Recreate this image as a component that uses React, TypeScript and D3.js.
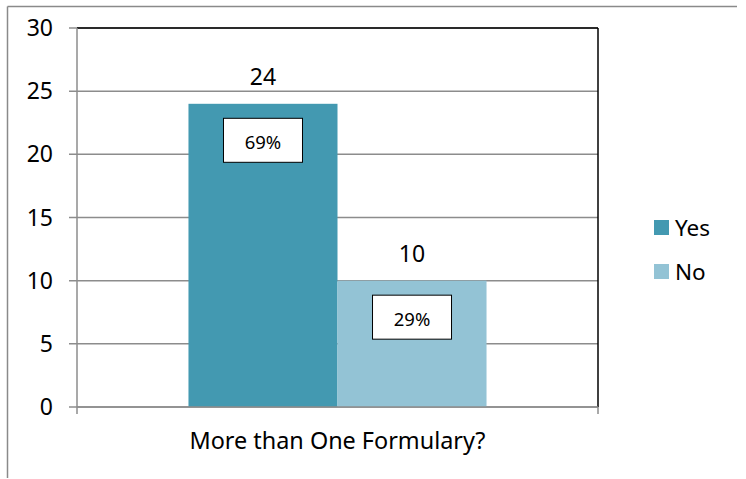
import React from "react";
import * as d3 from "d3";

const categories = ["More than One Formulary?"];
const seriesNames = ["Yes", "No"];
const seriesValues = [24, 10];
const seriesPercents = ["69%", "29%"];
const seriesColors = ["#4399b1", "#93c3d5"];
const yTicks = [0, 5, 10, 15, 20, 25, 30];

const W = 746;
const H = 479;
const plot = { left: 77, top: 28, right: 598, bottom: 407 };
const FONT = "'Noto Sans', 'Open Sans', sans-serif";

export default function App() {
  const y = d3.scaleLinear().domain([0, 30]).range([plot.bottom, plot.top]);
  const x0 = d3
    .scaleBand<string>()
    .domain(categories)
    .range([plot.left, plot.right])
    .paddingInner(0)
    .paddingOuter(0.374);
  const x1 = d3
    .scaleBand<string>()
    .domain(seriesNames)
    .range([0, x0.bandwidth()])
    .padding(0);

  const cat = categories[0];
  const cx = x0(cat) ?? 0;

  return (
    <svg
      width={W}
      height={H}
      style={{ position: "absolute", left: 0, top: 0, background: "#fff" }}
      fontFamily={FONT}
    >
      {/* outer chart frame */}
      <line x1={7.5} y1={6.5} x2={737} y2={6.5} stroke="#8a8a8a" strokeWidth={1.5} />
      <line x1={7.5} y1={6.5} x2={7.5} y2={478} stroke="#8a8a8a" strokeWidth={1.5} />

      {/* gridlines */}
      {yTicks.map((t) => (
        <line
          key={"g" + t}
          x1={plot.left - 8}
          x2={plot.right}
          y1={y(t)}
          y2={y(t)}
          stroke="#8c8c8c"
          strokeWidth={1.5}
        />
      ))}

      {/* plot area border: top and right */}
      <line x1={plot.left} x2={plot.right} y1={plot.top} y2={plot.top} stroke="#000" strokeWidth={1.5} />
      <line x1={plot.right} x2={plot.right} y1={plot.top} y2={plot.bottom} stroke="#000" strokeWidth={1.5} />

      {/* bars */}
      {seriesNames.map((s, i) => {
        const bx = cx + (x1(s) ?? 0);
        const bw = x1.bandwidth();
        const v = seriesValues[i];
        const top = y(v);
        const mid = bx + bw / 2;
        return (
          <g key={s}>
            <rect x={bx} y={top} width={bw} height={plot.bottom - top} fill={seriesColors[i]} />
            <text x={mid} y={top - 19} textAnchor="middle" fontSize={23} fill="#000">
              {v}
            </text>
            <rect
              x={mid - 39.5}
              y={top + 14.5}
              width={79}
              height={44}
              fill="#fff"
              stroke="#000"
              strokeWidth={1}
            />
            <text x={mid} y={top + 45} textAnchor="middle" fontSize={18.5} fill="#000">
              {seriesPercents[i]}
            </text>
          </g>
        );
      })}

      {/* axes */}
      <line x1={plot.left} x2={plot.left} y1={plot.top} y2={plot.bottom} stroke="#8c8c8c" strokeWidth={1.5} />
      <line x1={plot.left} x2={plot.right} y1={plot.bottom} y2={plot.bottom} stroke="#8c8c8c" strokeWidth={1.5} />
      <line x1={plot.left} x2={plot.left} y1={plot.bottom} y2={plot.bottom + 7} stroke="#8c8c8c" strokeWidth={1.5} />
      <line x1={plot.right} x2={plot.right} y1={plot.bottom} y2={plot.bottom + 7} stroke="#8c8c8c" strokeWidth={1.5} />

      {/* y tick labels */}
      {yTicks.map((t) => (
        <text key={"t" + t} x={53} y={y(t) + 8} textAnchor="end" fontSize={23} fill="#000">
          {t}
        </text>
      ))}

      {/* category label */}
      <text
        x={(plot.left + plot.right) / 2}
        y={449}
        textAnchor="middle"
        fontSize={23.4}
        fill="#000"
      >
        {cat}
      </text>

      {/* legend */}
      {seriesNames.map((s, i) => (
        <g key={"l" + s} transform={`translate(654, ${220 + i * 44})`}>
          <rect x={0} y={0} width={15} height={15} fill={seriesColors[i]} />
          <text x={21} y={15.5} fontSize={22.5} fill="#000">
            {s}
          </text>
        </g>
      ))}
    </svg>
  );
}
